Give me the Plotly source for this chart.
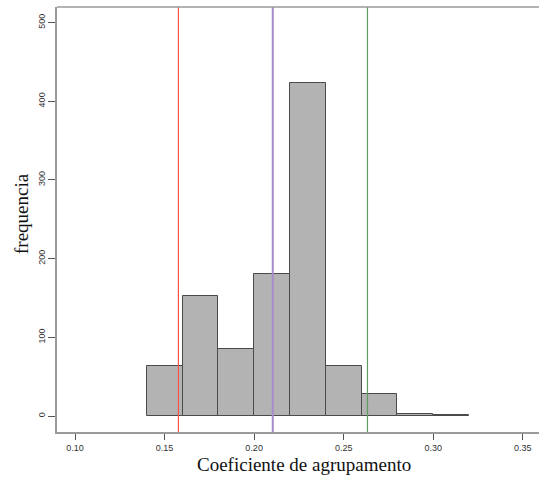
import plotly.graph_objects as go

bin_left = [0.14, 0.16, 0.18, 0.20, 0.22, 0.24, 0.26, 0.28, 0.30]
counts = [63, 152, 85, 181, 423, 63, 28, 2, 1]
bin_width = 0.02
vlines = [0.1577, 0.2104, 0.2633]
vline_colors = ["#ff5252", "#a98bcb", "#5e9c5e"]
vline_widths = [1.2, 2, 1.2]
x_ticks = [0.10, 0.15, 0.20, 0.25, 0.30, 0.35]
y_ticks = [0, 100, 200, 300, 400, 500]
x_title = "Coeficiente de agrupamento"
y_title = "frequencia"

centers = [b + bin_width / 2 for b in bin_left]

fig = go.Figure()
fig.add_trace(go.Bar(
    x=centers, y=counts, width=[bin_width] * len(counts),
    marker=dict(color="#b3b3b3", line=dict(color="#4a4a4a", width=1)),
    showlegend=False,
))

for xv, c, w in zip(vlines, vline_colors, vline_widths):
    fig.add_shape(type="line", xref="x", yref="paper", x0=xv, x1=xv, y0=0, y1=1,
                  line=dict(color=c, width=w))

# top frame line
fig.add_shape(type="line", xref="paper", yref="paper", x0=0, x1=1, y0=1, y1=1,
              line=dict(color="#9a9a9a", width=1.5))

title_font = dict(family="Liberation Serif, Times New Roman", size=19, color="#111")
fig.add_annotation(text=x_title, xref="paper", yref="paper", x=0.5124, y=-0.0776,
                   xanchor="center", yanchor="middle", showarrow=False, font=title_font)
fig.add_annotation(text=y_title, xref="paper", yref="paper", x=-0.0726, y=0.513,
                   xanchor="center", yanchor="middle", showarrow=False, textangle=-90,
                   font=title_font)

fig.update_layout(
    width=539, height=479,
    margin=dict(l=57, r=0, t=7, b=47),
    plot_bgcolor="white", paper_bgcolor="white",
    bargap=0,
    xaxis=dict(
        range=[0.0899, 0.3591], tickvals=x_ticks,
        ticktext=[f"{v:.2f}" for v in x_ticks],
        showgrid=False, zeroline=False, showline=True, linecolor="#9a9a9a", linewidth=1.5,
        ticks="outside", ticklen=6, tickcolor="#555", tickwidth=1,
        tickfont=dict(family="Liberation Sans, Arial", size=9, color="#333"),
    ),
    yaxis=dict(
        range=[-20.3, 519.7], tickvals=y_ticks, tickangle=-90,
        showgrid=False, zeroline=False, showline=True, linecolor="#9a9a9a", linewidth=1.5,
        ticks="outside", ticklen=7, tickcolor="#555", tickwidth=1,
        tickfont=dict(family="Liberation Sans, Arial", size=9, color="#333"),
    ),
)

fig.write_html("out.html")
